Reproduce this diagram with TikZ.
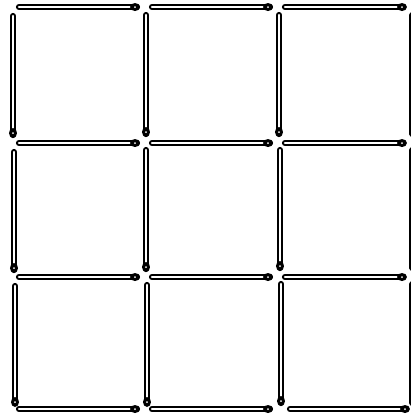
\documentclass[tikz,border=0pt]{standalone}
\usepackage{tikz}
\usepackage{xcolor}

\begin{document}
\begin{tikzpicture}[x=0.5pt,y=-0.5pt,
  stick/.style={line width=1pt,double=white,double distance=1.1pt,line cap=round},
  head/.style={fill=black,path picture={\fill[white] (path picture bounding box.center) circle (0.5pt);}}]
\useasboundingbox (0,0) rectangle (411,414);
\clip (0,0) rectangle (411,414);
% horizontal matches, top row
\draw[stick] (19,7) -- (137,7);
\path[head] (135,7) ellipse (5 and 4);
\draw[stick] (152,7) -- (270,7);
\path[head] (268,7) ellipse (5 and 4);
\draw[stick] (285,7) -- (403,7);
\path[head] (402,7) ellipse (5 and 4);
% horizontal matches, second row
\draw[stick] (19,143) -- (137,143);
\path[head] (135,143) ellipse (5 and 4);
\draw[stick] (152,143) -- (270,143);
\path[head] (268,143) ellipse (5 and 4);
\draw[stick] (285,143) -- (403,143);
\path[head] (402,143) ellipse (5 and 4);
% horizontal matches, third row
\draw[stick] (19,277) -- (137,277);
\path[head] (135,277) ellipse (5 and 4);
\draw[stick] (152,277) -- (270,277);
\path[head] (268,277) ellipse (5 and 4);
\draw[stick] (285,277) -- (403,277);
\path[head] (402,277) ellipse (5 and 4);
% horizontal matches, bottom row
\draw[stick] (19,409) -- (137,409);
\path[head] (135,409) ellipse (5 and 4);
\draw[stick] (152,409) -- (270,409);
\path[head] (268,409) ellipse (5 and 4);
\draw[stick] (290,409) -- (406,409);
\path[head] (405,409) ellipse (5 and 4);
% vertical matches, left column
\draw[stick] (13,16) -- (13,135);
\path[head] (13,133) ellipse (4 and 5);
\draw[stick] (14,152) -- (14,270);
\path[head] (14,268) ellipse (4 and 5);
\draw[stick] (15,286) -- (15,403);
\path[head] (15,402) ellipse (4 and 5);
% vertical matches, second column
\draw[stick] (146,15) -- (146,134);
\path[head] (146,132) ellipse (4 and 5);
\draw[stick] (146,150) -- (146,269);
\path[head] (146,267) ellipse (4 and 5);
\draw[stick] (147,285) -- (147,403);
\path[head] (147,402) ellipse (4 and 5);
% vertical matches, third column
\draw[stick] (279,15) -- (279,134);
\path[head] (279,132) ellipse (4 and 5);
\draw[stick] (280,150) -- (280,268);
\path[head] (280,266) ellipse (4 and 5);
\draw[stick] (281,284) -- (281,403);
\path[head] (281,401) ellipse (4 and 5);
% vertical matches, right column (cut off at the edge)
\draw[stick] (412.5,15) -- (412.5,134);
\draw[stick] (412.5,150) -- (412.5,268);
\draw[stick] (412.5,284) -- (412.5,403);
\end{tikzpicture}
\end{document}
